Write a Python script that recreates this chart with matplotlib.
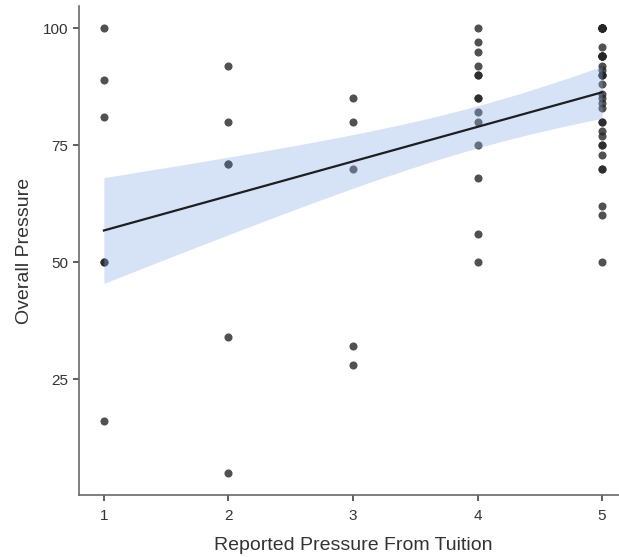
import numpy as np
import matplotlib
matplotlib.use("Agg")
import matplotlib.pyplot as plt

plt.rcParams['font.family'] = ['Liberation Sans', 'DejaVu Sans']

# Data: reported pressure from tuition (x) vs overall pressure (y)
x1 = [1] * 6
y1 = [100, 89, 81, 50, 50, 16]
y2 = [92, 80, 71, 71, 34, 5]
x2 = [2] * len(y2)
x3 = [3] * 5
y3 = [85, 80, 70, 32, 28]
y4 = [100, 97, 95, 92, 90, 90, 85, 85, 82, 80, 75, 68, 56, 50]
x4 = [4] * len(y4)
y5 = [100, 100, 96, 94, 94, 92, 91, 90, 88, 86, 85, 84, 83, 80, 80, 78, 77,
      75, 75, 73, 70, 70, 62, 60, 50,
      100, 100, 100, 100, 100, 100, 100, 94, 94, 94, 94, 90, 90]
x5 = [5] * len(y5)

xs = np.array(x1 + x2 + x3 + x4 + x5, dtype=float)
ys = np.array(y1 + y2 + y3 + y4 + y5, dtype=float)

x_ticks = [1, 2, 3, 4, 5]
y_ticks = [25, 50, 75, 100]
x_label = "Reported Pressure From Tuition"
y_label = "Overall Pressure"

# Linear fit with 95% confidence band
n = len(xs)
xbar, ybar = xs.mean(), ys.mean()
sxx = ((xs - xbar) ** 2).sum()
b = ((xs - xbar) * (ys - ybar)).sum() / sxx
a = ybar - b * xbar
resid = ys - (a + b * xs)
s = np.sqrt((resid ** 2).sum() / (n - 2))
t_crit = 1.996
xg = np.linspace(xs.min(), xs.max(), 100)
yg = a + b * xg
se = s * np.sqrt(1.0 / n + (xg - xbar) ** 2 / sxx)

W, H = 619, 557
fig = plt.figure(figsize=(W / 100, H / 100), dpi=100)
left, right, bottom, top = 79, 627, 495, 6
ax = fig.add_axes([left / W, (H - bottom) / H, (right - left) / W, (bottom - top) / H])

ax.scatter(xs, ys, s=34, color='#262626', alpha=0.8, linewidths=0, zorder=2)
ax.fill_between(xg, yg - t_crit * se, yg + t_crit * se, color='#8aade8',
                alpha=0.35, linewidth=0, zorder=3)
ax.plot(xg, yg, color='#1e1e1e', linewidth=1.6, zorder=4)

ax.set_xlim(0.8, 5.2)
ax.set_ylim(0.25, 104.75)
ax.set_xticks(x_ticks)
ax.set_yticks(y_ticks)
ax.set_xticklabels([str(v) for v in x_ticks])
ax.set_yticklabels([str(v) for v in y_ticks])

for side in ['top', 'right']:
    ax.spines[side].set_visible(False)
for side in ['left', 'bottom']:
    ax.spines[side].set_color('#6a6a6a')
    ax.spines[side].set_linewidth(1.2)

ax.tick_params(axis='both', direction='out', length=4, width=1.1,
               color='#333333', labelcolor='#333333', labelsize=11)
ax.tick_params(axis='x', pad=6)
ax.tick_params(axis='y', pad=4)

ax.set_xlabel(x_label, fontsize=14, color='#333333', labelpad=10)
ax.set_ylabel(y_label, fontsize=14, color='#333333', labelpad=7)

fig.savefig("out.png", dpi=100)
